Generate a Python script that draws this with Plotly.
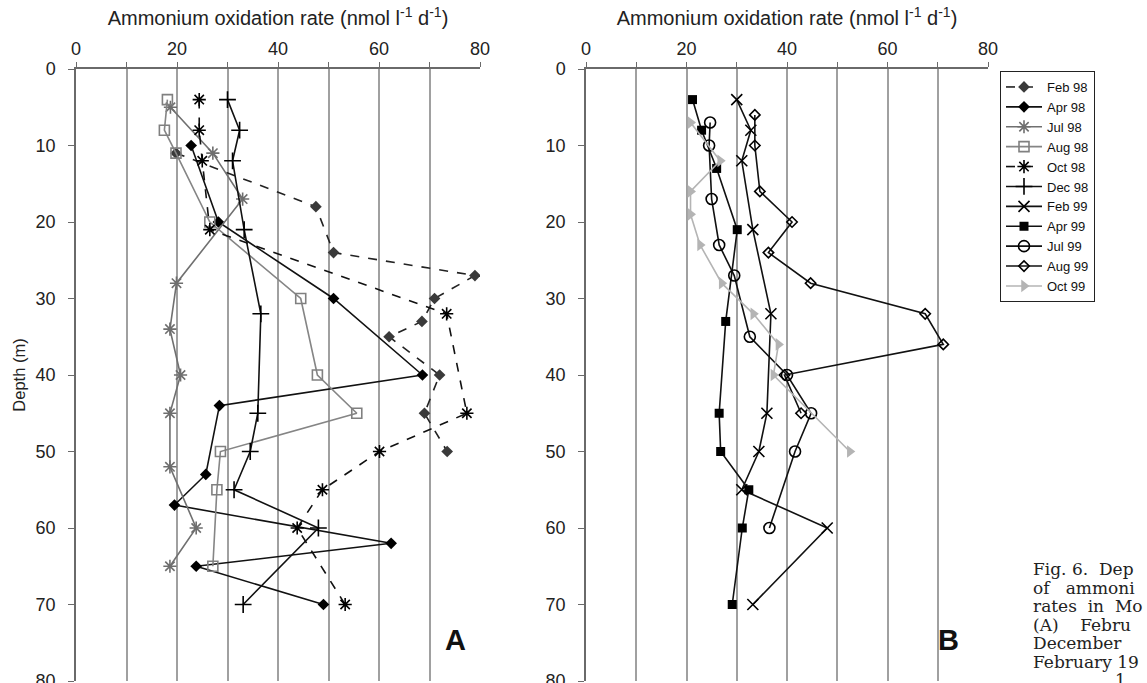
import plotly.graph_objects as go

# ---- Panel A: February 1998 - December 1998 ----
feb98_depth = [11, 18, 24, 27, 30, 33, 35, 40, 45, 50]
feb98_rate = [19.8, 47.5, 51, 79, 71, 68.5, 62, 72, 69, 73.5]

apr98_depth = [10, 20, 30, 40, 44, 53, 57, 62, 65, 70]
apr98_rate = [22.8, 28.2, 51, 68.6, 28.4, 25.7, 19.5, 62.4, 23.8, 49]

jul98_depth = [5, 11, 17, 28, 34, 40, 45, 52, 60, 65]
jul98_rate = [18.7, 27.1, 33, 19.9, 18.6, 20.7, 18.6, 18.6, 23.8, 18.6]

aug98_depth = [4, 8, 11, 20, 30, 40, 45, 50, 55, 65]
aug98_rate = [18.1, 17.5, 19.8, 26.5, 44.5, 47.8, 55.6, 28.6, 27.9, 27.1]

oct98_depth = [4, 8, 12, 21, 32, 45, 50, 55, 60, 70]
oct98_rate = [24.4, 24.4, 25, 26.5, 73.4, 77.4, 60.1, 48.8, 43.8, 53.3]

dec98_depth = [4, 8, 12, 21, 32, 45, 50, 55, 60, 70]
dec98_rate = [30, 32.4, 31, 33.3, 36.6, 36, 34.5, 31.3, 48, 33.1]

# ---- Panel B: February 1999 - October 1999 ----
feb99_depth = [4, 8, 12, 21, 32, 45, 50, 55, 60, 70]
feb99_rate = [30, 32.8, 31, 33.2, 36.8, 36, 34.4, 31, 48, 33.2]

apr99_depth = [4, 8, 13, 21, 33, 45, 50, 55, 60, 70]
apr99_rate = [21.2, 23, 26, 30.1, 27.8, 26.5, 26.8, 32.4, 31.1, 29.1]

jul99_depth = [7, 10, 17, 23, 27, 35, 40, 45, 50, 60]
jul99_rate = [24.7, 24.5, 25, 26.5, 29.5, 32.6, 40, 44.8, 41.6, 36.5]

aug99_depth = [6, 10, 16, 20, 24, 28, 32, 36, 40, 45]
aug99_rate = [33.6, 33.6, 34.6, 41, 36.3, 44.7, 67.5, 71.1, 39.5, 42.8]

oct99_depth = [7, 12, 16, 19, 23, 28, 32, 36, 40, 50]
oct99_rate = [20.8, 26.7, 20.8, 20.8, 22.7, 27, 33.3, 38.3, 37.3, 52.5]

x_ticks = [0, 20, 40, 60, 80]
depth_ticks = [0, 10, 20, 30, 40, 50, 60, 70, 80]

caption_lines = ["Fig.\u00a06.\u00a0\u00a0Dep", "of\u00a0\u00a0\u00a0ammoni", "rates\u00a0 in\u00a0 Mo",
                 "(A)\u00a0\u00a0\u00a0\u00a0Febru", "December", "February 19"]
caption_tail = "1"

W, H = 1147, 683
SANS = "Liberation Sans, Arial, sans-serif"
SERIF = "DejaVu Serif, serif"
GRID = "#a0a0a0"
AXIS = "#6a6a6a"

series = [
    # name, rates, depths, panel, line colour, dash, symbol, marker colour, size, open
    ("Feb 98", feb98_rate, feb98_depth, 1, "#222222", "dash", "diamond", "#3a3a3a", 9, False),
    ("Apr 98", apr98_rate, apr98_depth, 1, "#111111", "solid", "diamond", "#000000", 9, False),
    ("Jul 98", jul98_rate, jul98_depth, 1, "#707070", "solid", "asterisk-open", "#6e6e6e", 11, True),
    ("Aug 98", aug98_rate, aug98_depth, 1, "#858585", "solid", "square-open", "#808080", 10, True),
    ("Oct 98", oct98_rate, oct98_depth, 1, "#111111", "dash", "asterisk-open", "#000000", 11, True),
    ("Dec 98", dec98_rate, dec98_depth, 1, "#111111", "solid", "cross-thin-open", "#000000", 12, True),
    ("Feb 99", feb99_rate, feb99_depth, 2, "#111111", "solid", "x-thin-open", "#000000", 11, True),
    ("Apr 99", apr99_rate, apr99_depth, 2, "#111111", "solid", "square", "#000000", 9, False),
    ("Jul 99", jul99_rate, jul99_depth, 2, "#111111", "solid", "circle-open", "#000000", 11, True),
    ("Aug 99", aug99_rate, aug99_depth, 2, "#111111", "solid", "diamond-open", "#000000", 8, True),
    ("Oct 99", oct99_rate, oct99_depth, 2, "#b4b4b4", "solid", "triangle-right", "#b4b4b4", 11, False),
]

fig = go.Figure()
for name, rate, depth, panel, lc, dash, sym, mc, size, is_open in series:
    marker = dict(symbol=sym, size=size, color=mc,
                  line=dict(color=mc, width=1.6 if is_open else 0))
    fig.add_trace(go.Scatter(
        x=rate, y=depth, name=name, mode="lines+markers",
        line=dict(color=lc, width=1.6, dash=dash),
        marker=marker,
        xaxis="x" if panel == 1 else "x2",
        yaxis="y" if panel == 1 else "y2",
    ))

y_dom = [2 / H, 1 - 69 / H]
rate_title = "Ammonium oxidation rate (nmol l<sup>-1</sup> d<sup>-1</sup>)"


def x_axis(domain, anchor):
    return dict(
        domain=domain, anchor=anchor, side="top", range=[0, 80],
        automargin=False,
        tickmode="array", tickvals=x_ticks,
        ticks="outside", ticklen=5, tickwidth=1.2, tickcolor=AXIS,
        showline=True, linecolor=AXIS, linewidth=1.5,
        showgrid=True, gridcolor=GRID, gridwidth=1.6, zeroline=False,
        minor=dict(dtick=10, tick0=0, ticks="outside", ticklen=5, tickcolor=AXIS,
                   showgrid=True, gridcolor=GRID, gridwidth=1.6),
        tickfont=dict(family=SANS, size=18, color="#222"),
        title=dict(text=rate_title, standoff=8,
                   font=dict(family=SANS, size=20, color="#222")),
    )


def y_axis(anchor, title):
    return dict(
        domain=y_dom, anchor=anchor, range=[80, 0],
        automargin=False,
        tickmode="array", tickvals=depth_ticks,
        ticks="outside", ticklen=6, tickwidth=1.2, tickcolor=AXIS,
        ticklabelstandoff=9, ticklabeloverflow="allow",
        showline=True, linecolor=AXIS, linewidth=1.5,
        showgrid=False, zeroline=False,
        tickfont=dict(family=SANS, size=18, color="#222"),
        title=dict(text=title, standoff=6,
                   font=dict(family=SANS, size=16.5, color="#222")),
    )


fig.update_layout(
    width=W, height=H,
    margin=dict(l=0, r=0, t=0, b=0),
    paper_bgcolor="white", plot_bgcolor="white",
    xaxis=x_axis([76 / W, 480 / W], "y"),
    yaxis=y_axis("x", "Depth (m)"),
    xaxis2=x_axis([586 / W, 988 / W], "y2"),
    yaxis2=y_axis("x2", ""),
    showlegend=True,
    legend=dict(
        x=1000 / W, y=1 - 71 / H, xanchor="left", yanchor="top",
        bordercolor="#222", borderwidth=1, bgcolor="white",
        font=dict(family=SANS, size=13, color="#111"),
        tracegroupgap=0, itemwidth=36,
    ),
)

# Panel letters
for letter, xp in (("A", 455), ("B", 961)):
    fig.add_annotation(
        x=xp / W, y=1 - 658 / H, xref="paper", yref="paper",
        text="<b>%s</b>" % letter, showarrow=False,
        font=dict(family=SANS, size=29, color="#111"),
    )

# Figure caption, running off the right-hand edge
cap_y = [569, 587.5, 606, 624.5, 643, 661.5]
for i, line in enumerate(caption_lines):
    fig.add_annotation(
        x=1031 / W, y=1 - cap_y[i] / H, xref="paper", yref="paper",
        xanchor="left", yanchor="middle", text=line, showarrow=False,
        font=dict(family=SERIF, size=17, color="#222"),
    )
fig.add_annotation(
    x=1120 / W, y=1 - 680 / H, xref="paper", yref="paper",
    xanchor="center", yanchor="middle", text=caption_tail, showarrow=False,
    font=dict(family=SERIF, size=17, color="#222"),
)

fig.write_html("out.html")
